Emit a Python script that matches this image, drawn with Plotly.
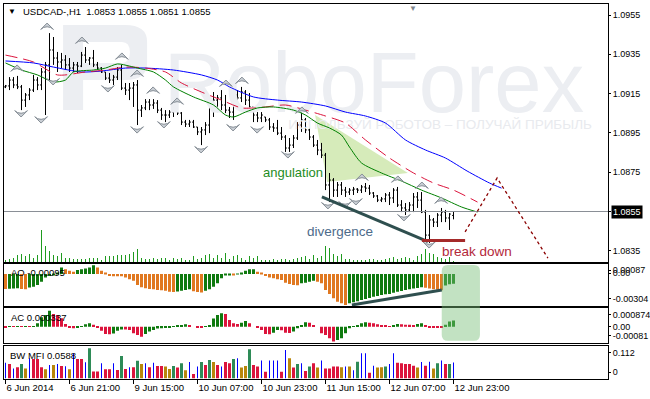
import plotly.graph_objects as go

# ---------------- data (USDCAD H1) ----------------
open_ = [1.09184, 1.09189, 1.09219, 1.09194, 1.09184, 1.09117, 1.09143, 1.09168, 1.09219, 1.09194,
         1.09260, 1.09296, 1.09372, 1.09331, 1.09311, 1.09321, 1.09296, 1.09280, 1.09296, 1.09290,
         1.09346, 1.09321, 1.09331, 1.09296, 1.09280, 1.09260, 1.09229, 1.09219, 1.09234, 1.09270,
         1.09178, 1.09168, 1.09178, 1.09194, 1.09066, 1.09077, 1.09107, 1.09092, 1.09102, 1.09066,
         1.09041, 1.09041, 1.09056, 1.09066, 1.09051, 1.09005, 1.08995, 1.09005, 1.08980, 1.08955,
         1.08965, 1.08990, 1.09092, 1.09117, 1.09128, 1.09092, 1.09066, 1.09056, 1.09143, 1.09128,
         1.09158, 1.09117, 1.09082, 1.09041, 1.09026, 1.09031, 1.09016, 1.08980, 1.08975, 1.08949,
         1.08929, 1.08873, 1.08888, 1.08924, 1.08990, 1.09016, 1.08965, 1.08929, 1.08888, 1.08863,
         1.08837, 1.08685, 1.08710, 1.08659, 1.08685, 1.08659, 1.08649, 1.08659, 1.08664, 1.08659,
         1.08675, 1.08669, 1.08644, 1.08629, 1.08608, 1.08614, 1.08634, 1.08619, 1.08659, 1.08583,
         1.08568, 1.08558, 1.08583, 1.08624, 1.08608, 1.08547, 1.08430, 1.08507, 1.08496, 1.08532,
         1.08547, 1.08517, 1.08530]
high = [1.09194, 1.09234, 1.09234, 1.09240, 1.09194, 1.09153, 1.09178, 1.09245, 1.09234, 1.09280,
        1.09311, 1.09458, 1.09438, 1.09362, 1.09357, 1.09346, 1.09331, 1.09311, 1.09311, 1.09362,
        1.09387, 1.09336, 1.09372, 1.09311, 1.09285, 1.09260, 1.09255, 1.09245, 1.09285, 1.09296,
        1.09204, 1.09204, 1.09209, 1.09219, 1.09092, 1.09122, 1.09122, 1.09122, 1.09117, 1.09077,
        1.09066, 1.09066, 1.09077, 1.09066, 1.09056, 1.09016, 1.09016, 1.09016, 1.08980, 1.08980,
        1.09005, 1.09107, 1.09158, 1.09143, 1.09168, 1.09143, 1.09082, 1.09158, 1.09168, 1.09184,
        1.09168, 1.09153, 1.09082, 1.09056, 1.09056, 1.09031, 1.09026, 1.09000, 1.09016, 1.08980,
        1.08939, 1.08924, 1.08939, 1.09005, 1.09056, 1.09026, 1.08975, 1.08939, 1.08914, 1.08899,
        1.08848, 1.08746, 1.08720, 1.08700, 1.08700, 1.08675, 1.08669, 1.08675, 1.08669, 1.08685,
        1.08695, 1.08685, 1.08649, 1.08634, 1.08624, 1.08644, 1.08649, 1.08669, 1.08675, 1.08608,
        1.08593, 1.08598, 1.08644, 1.08649, 1.08649, 1.08558, 1.08532, 1.08517, 1.08542, 1.08568,
        1.08558, 1.08542, 1.08550]
low = [1.09178, 1.09168, 1.09178, 1.09173, 1.09066, 1.09082, 1.09117, 1.09158, 1.09168, 1.09168,
       1.09041, 1.09219, 1.09296, 1.09260, 1.09280, 1.09270, 1.09260, 1.09260, 1.09255, 1.09285,
       1.09306, 1.09296, 1.09285, 1.09270, 1.09255, 1.09219, 1.09204, 1.09194, 1.09219, 1.09168,
       1.09143, 1.09117, 1.09082, 1.08990, 1.09031, 1.09066, 1.09066, 1.09072, 1.09051, 1.09016,
       1.09005, 1.09026, 1.09031, 1.09041, 1.08990, 1.08980, 1.08980, 1.08975, 1.08939, 1.08888,
       1.08939, 1.08949, 1.09031, 1.09056, 1.09066, 1.09051, 1.09026, 1.09016, 1.09082, 1.09107,
       1.09092, 1.09066, 1.09005, 1.09005, 1.09005, 1.09005, 1.08965, 1.08955, 1.08939, 1.08914,
       1.08853, 1.08853, 1.08873, 1.08914, 1.08955, 1.08949, 1.08914, 1.08878, 1.08837, 1.08822,
       1.08659, 1.08598, 1.08624, 1.08624, 1.08634, 1.08624, 1.08634, 1.08634, 1.08644, 1.08644,
       1.08649, 1.08634, 1.08619, 1.08598, 1.08598, 1.08598, 1.08583, 1.08593, 1.08573, 1.08547,
       1.08532, 1.08547, 1.08547, 1.08568, 1.08542, 1.08395, 1.08390, 1.08471, 1.08471, 1.08496,
       1.08496, 1.08456, 1.08510]
close = [1.09189, 1.09219, 1.09194, 1.09184, 1.09117, 1.09143, 1.09168, 1.09219, 1.09194, 1.09260,
         1.09296, 1.09372, 1.09331, 1.09311, 1.09321, 1.09296, 1.09280, 1.09296, 1.09290, 1.09346,
         1.09321, 1.09331, 1.09296, 1.09280, 1.09260, 1.09229, 1.09219, 1.09234, 1.09270, 1.09178,
         1.09168, 1.09178, 1.09194, 1.09066, 1.09077, 1.09107, 1.09092, 1.09102, 1.09066, 1.09041,
         1.09041, 1.09056, 1.09066, 1.09051, 1.09005, 1.08995, 1.09005, 1.08980, 1.08955, 1.08965,
         1.08990, 1.09092, 1.09117, 1.09128, 1.09092, 1.09066, 1.09056, 1.09143, 1.09128, 1.09158,
         1.09117, 1.09082, 1.09041, 1.09026, 1.09041, 1.09016, 1.08980, 1.08975, 1.08949, 1.08929,
         1.08873, 1.08888, 1.08924, 1.08990, 1.09016, 1.08965, 1.08929, 1.08888, 1.08863, 1.08837,
         1.08685, 1.08710, 1.08659, 1.08685, 1.08659, 1.08649, 1.08659, 1.08664, 1.08659, 1.08675,
         1.08669, 1.08644, 1.08629, 1.08608, 1.08614, 1.08634, 1.08619, 1.08659, 1.08583, 1.08568,
         1.08558, 1.08583, 1.08624, 1.08608, 1.08547, 1.08430, 1.08507, 1.08496, 1.08532, 1.08547,
         1.08517, 1.08537, 1.08550]
volume = [100, 150, 200, 350, 400, 300, 400, 200, 350, 1600,
          800, 550, 350, 300, 450, 200, 200, 150, 150, 150,
          150, 200, 200, 200, 100, 300, 300, 300, 350, 350,
          350, 400, 500, 650, 200, 150, 150, 200, 150, 200,
          200, 100, 200, 150, 200, 100, 100, 300, 150, 200,
          350, 400, 200, 350, 200, 450, 150, 300, 350, 200,
          100, 300, 200, 300, 100, 100, 100, 150, 100, 150,
          150, 100, 150, 200, 250, 300, 150, 350, 200, 300,
          800, 700, 400, 300, 400, 150, 150, 100, 100, 100,
          100, 150, 150, 100, 100, 150, 200, 250, 150, 200,
          250, 200, 100, 300, 400, 650, 450, 400, 250, 200,
          150, 250, 50]
ao = [-0.00147, -0.00145, -0.00143, -0.00140, -0.00146, -0.00150, -0.00132, -0.00124, -0.00108, -0.00075,
      -0.00033, -0.00020, -0.00010, 0.00013, 0.00065, 0.00046, 0.00033, 0.00023, 0.00039, 0.00046,
      0.00055, 0.00065, 0.00087, 0.00065, 0.00033, 0.00007, -0.00020, -0.00021, -0.00022, -0.00023,
      -0.00033, -0.00052, -0.00065, -0.00108, -0.00130, -0.00140, -0.00147, -0.00149, -0.00156, -0.00158,
      -0.00163, -0.00173, -0.00175, -0.00172, -0.00163, -0.00156, -0.00150, -0.00168, -0.00176, -0.00182,
      -0.00165, -0.00150, -0.00124, -0.00091, -0.00042, -0.00010, -0.00007, -0.00013, -0.00003, 0.00007,
      0.00033, 0.00046, 0.00047, 0.00023, 0.00007, -0.00020, -0.00033, -0.00042, -0.00052, -0.00059,
      -0.00085, -0.00098, -0.00108, -0.00110, -0.00091, -0.00085, -0.00075, -0.00065, -0.00075, -0.00091,
      -0.00156, -0.00196, -0.00238, -0.00271, -0.00287, -0.00304, -0.00287, -0.00277, -0.00267, -0.00254,
      -0.00244, -0.00235, -0.00222, -0.00215, -0.00205, -0.00199, -0.00196, -0.00183, -0.00173, -0.00166,
      -0.00156, -0.00150, -0.00143, -0.00137, -0.00130, -0.00135, -0.00142, -0.00150, -0.00155, -0.00158,
      -0.00112, -0.00100, -0.00095]
ac = [-0.00002, 0.00001, -0.00001, 0.00002, 0.00001, 0.00002, 0.00001, 0.00003, 0.00018, 0.00051,
      0.00064, 0.000874, 0.00069, 0.00064, 0.00046, 0.00015, -0.00002, -0.00009, -0.00005, 0.00001,
      0.00013, 0.00018, 0.00010, -0.00004, -0.00022, -0.00040, -0.00041, -0.00037, -0.00022, -0.00015,
      -0.00016, -0.00018, -0.00036, -0.00046, -0.00055, -0.00040, -0.00027, -0.00018, -0.00010, -0.00009,
      -0.00006, -0.00004, 0.00001, 0.00005, 0.00009, 0.00013, 0.00004, 0.00000, -0.00005, -0.00006,
      0.00001, 0.00009, 0.00045, 0.00064, 0.00073, 0.00069, 0.00036, 0.00018, 0.00015, 0.00022,
      0.00031, 0.00018, 0.00000, -0.00004, -0.00018, -0.00040, -0.00042, -0.00033, -0.00018, -0.00019,
      -0.00033, -0.00034, -0.00027, -0.00009, 0.00009, 0.00024, 0.00022, 0.00009, 0.00000, -0.00036,
      -0.00046, -0.00064, -0.00081, -0.00073, -0.00064, -0.00036, -0.00009, 0.00002, 0.00009, 0.00018,
      0.00024, 0.00022, 0.00018, 0.00013, 0.00007, 0.00004, 0.00003, 0.00009, 0.00015, 0.00013,
      0.00011, 0.00010, 0.00009, 0.00015, 0.00018, 0.00004, -0.00004, -0.00005, -0.00006, -0.00007,
      0.00010, 0.00028, 0.000337]
mfi = [0.058, 0.053, 0.037, 0.041, 0.053, 0.037, 0.075, 0.072, 0.072, 0.041,
       0.034, 0.050, 0.050, 0.053, 0.046, 0.045, 0.034, 0.093, 0.072, 0.072,
       0.060, 0.112, 0.025, 0.025, 0.056, 0.034, 0.034, 0.056, 0.031, 0.083,
       0.035, 0.041, 0.041, 0.065, 0.053, 0.056, 0.041, 0.058, 0.046, 0.046,
       0.044, 0.035, 0.046, 0.040, 0.056, 0.030, 0.061, 0.016, 0.044, 0.061,
       0.050, 0.068, 0.061, 0.050, 0.044, 0.061, 0.056, 0.072, 0.075, 0.040,
       0.046, 0.108, 0.050, 0.044, 0.066, 0.024, 0.066, 0.066, 0.066, 0.024,
       0.106, 0.075, 0.040, 0.053, 0.056, 0.027, 0.044, 0.056, 0.040, 0.066,
       0.037, 0.037, 0.044, 0.044, 0.041, 0.044, 0.044, 0.030, 0.062, 0.093,
       0.093, 0.021, 0.047, 0.040, 0.041, 0.044, 0.053, 0.093, 0.058, 0.056,
       0.053, 0.053, 0.047, 0.040, 0.061, 0.047, 0.062, 0.037, 0.056, 0.066,
       0.053, 0.053, 0.0588]
# MFI zone per bar: g=green, o=fade, b=fake, r=squat
mfi_zone = list("brbrgobrrr" "obobrbobrr" "bgrrbrrbrg" "rbrgobrbrr" "oogrgobrbg"
                "rgorbrrgbo" "ogrrbrbbbr" "borgbrgrob" "rrrrobobgb" "brboogbbrr"
                "rrrobrbogb" "rgb")

# Alligator lines, read at sample bars (shifted forward past the last bar)
jaw_x = [0, 7, 12, 19, 24, 30, 35, 42, 49, 53, 56, 62, 68, 74, 80, 85, 90, 95, 100, 105, 110, 115.4, 121, 124]
jaw_y = [1.09316, 1.09306, 1.09285, 1.09260, 1.09265, 1.09280, 1.09280, 1.09270, 1.09245, 1.09219,
         1.09184, 1.09133, 1.09117, 1.09107, 1.09087, 1.09056, 1.09036, 1.09000, 1.08914, 1.08863,
         1.08822, 1.08756, 1.08695, 1.08669]
teeth_x = [0, 7, 13, 20, 25, 30, 35, 40, 44, 49, 54, 59, 62, 65, 70, 75, 80, 85, 90, 96, 102, 107, 112, 118]
teeth_y = [1.09346, 1.09311, 1.09245, 1.09260, 1.09270, 1.09285, 1.09280, 1.09260, 1.09204, 1.09158,
           1.09117, 1.09077, 1.09077, 1.09082, 1.09092, 1.09066, 1.09036, 1.09000, 1.08914, 1.08822,
           1.08746, 1.08695, 1.08659, 1.08598]
lips_x = [0, 4, 8, 12, 15, 17, 22, 25, 28, 31, 33, 37, 40, 42, 47, 52, 55, 57, 60, 63, 67, 72, 75,
          78, 81, 84, 86, 89, 94, 99, 104, 109, 114, 118]
lips_y = [1.09306, 1.09270, 1.09245, 1.09209, 1.09219, 1.09260, 1.09270, 1.09280, 1.09301, 1.09290,
          1.09280, 1.09260, 1.09219, 1.09184, 1.09133, 1.09092, 1.09041, 1.09031, 1.09056, 1.09077,
          1.09082, 1.09066, 1.09041, 1.09000, 1.08975, 1.08939, 1.08878, 1.08797, 1.08746, 1.08705,
          1.08659, 1.08619, 1.08573, 1.08547]

# Fractals
frac_up_x = [2.9, 10.4, 19.1, 29.1, 32.9, 36.9, 42.9, 55.1, 59.1, 74.1, 89.1, 98.1, 104.1, 108.9]
frac_up_y = [1.09296, 1.09509, 1.09438, 1.09357, 1.09270, 1.09184, 1.09128, 1.09219, 1.09234,
             1.09082, 1.08741, 1.08731, 1.08700, 1.08624]
frac_dn_x = [3.9, 8.9, 11.9, 25.6, 32.9, 39.6, 48.9, 56.9, 62.9, 70.6, 80.6, 84.9, 87.6, 99.6, 105.9]
frac_dn_y = [1.09031, 1.09000, 1.09194, 1.09158, 1.08949, 1.08975, 1.08848, 1.08960, 1.08949,
             1.08822, 1.08563, 1.08568, 1.08583, 1.08502, 1.08364]

time_ticks = [0, 16, 32, 48, 64, 80, 96, 112]
time_labels = ["6 Jun 2014", "6 Jun 21:00", "9 Jun 15:00", "10 Jun 07:00", "10 Jun 23:00",
               "11 Jun 15:00", "12 Jun 07:00", "12 Jun 23:00"]
price_ticks = [1.0835, 1.0855, 1.0875, 1.0895, 1.0915, 1.0935, 1.0955]

# ---------------- figure ----------------
idx = list(range(len(close)))
FONT = "Liberation Sans, Arial, sans-serif"
fig = go.Figure()

# watermark (drawn first so it sits under everything)
fig.add_trace(go.Scatter(x=[92.1], y=[1.09165], mode="text", text=["RoboForex"],
                         textposition="middle center",
                         textfont=dict(family=FONT, size=85, color="#eceef2"),
                         hoverinfo="skip", xaxis="x", yaxis="y"))
fig.add_trace(go.Scatter(x=[146.6], y=[1.08985], mode="text",
                         text=["ИСПОЛЬЗУЙ РОБОТОВ – ПОЛУЧАЙ ПРИБЫЛЬ"],
                         textposition="middle left",
                         textfont=dict(family=FONT, size=13.5, color="#e8eaee"),
                         hoverinfo="skip", xaxis="x", yaxis="y"))

# volume
fig.add_trace(go.Bar(x=idx, y=volume, width=0.25, marker=dict(color="#1f9b1f", line=dict(width=0)),
                     xaxis="x", yaxis="y5"))

# alligator
fig.add_trace(go.Scatter(x=jaw_x, y=jaw_y, mode="lines",
                         line=dict(color="#0000ff", width=1, shape="spline", smoothing=0.7), xaxis="x", yaxis="y"))
fig.add_trace(go.Scatter(x=teeth_x, y=teeth_y, mode="lines",
                         line=dict(color="#dc143c", width=1, shape="spline", smoothing=0.7, dash="12px,6px"),
                         xaxis="x", yaxis="y"))
fig.add_trace(go.Scatter(x=lips_x, y=lips_y, mode="lines",
                         line=dict(color="#008000", width=1, shape="spline", smoothing=0.7), xaxis="x", yaxis="y"))

# price bars
fig.add_trace(go.Ohlc(x=idx, open=open_, high=high, low=low, close=close, tickwidth=0.35,
                      increasing=dict(line=dict(color="black", width=1)),
                      decreasing=dict(line=dict(color="black", width=1)),
                      xaxis="x", yaxis="y"))

# fractals
fig.add_trace(go.Scatter(x=frac_up_x, y=frac_up_y, mode="markers",
                         marker=dict(symbol="arrow-wide", size=9, color="#c9ced4", angle=0,
                                     line=dict(color="#868e96", width=1)), xaxis="x", yaxis="y"))
fig.add_trace(go.Scatter(x=frac_dn_x, y=frac_dn_y, mode="markers",
                         marker=dict(symbol="arrow-wide", size=9, color="#c9ced4", angle=180,
                                     line=dict(color="#868e96", width=1)), xaxis="x", yaxis="y"))

# AO
ao_col = ["#e07820" if i == 0 or ao[i] <= ao[i - 1] else "#0f7a0f" for i in range(len(ao))]
fig.add_trace(go.Bar(x=idx, y=ao, width=0.75, marker=dict(color=ao_col, line=dict(width=0)),
                     xaxis="x2", yaxis="y2"))
# AC
ac_col = ["#dc143c" if i == 0 or ac[i] <= ac[i - 1] else "#0f7a0f" for i in range(len(ac))]
fig.add_trace(go.Bar(x=idx, y=ac, width=0.75, marker=dict(color=ac_col, line=dict(width=0)),
                     xaxis="x3", yaxis="y3"))
# BW MFI
zone_col = {"g": "#2e8b57", "o": "#b8860b", "b": "#0000ff", "r": "#dc143c"}
fig.add_trace(go.Bar(x=idx, y=mfi, width=[0.25 if z == "b" else 0.75 for z in mfi_zone],
                     marker=dict(color=[zone_col[z] for z in mfi_zone], line=dict(width=0)),
                     xaxis="x4", yaxis="y4"))

XR = [-0.375, 150.625]
frame = dict(showline=True, mirror=True, linecolor="black", linewidth=1, showgrid=False,
             zeroline=False, automargin=False)
xbase = dict(range=XR, domain=[0, 1], showticklabels=False, ticks="", rangeslider=dict(visible=False), **frame)
ytick = dict(ticks="outside", ticklen=2, tickcolor="black", tickfont=dict(size=9), side="right")

fig.update_layout(
    width=650, height=399, margin=dict(l=4, r=42, t=4, b=20, autoexpand=False),
    paper_bgcolor="white", plot_bgcolor="white", showlegend=False,
    font=dict(family=FONT, size=9.5, color="black"),
    xaxis=dict(anchor="y", **xbase),
    xaxis2=dict(anchor="y2", matches="x", **xbase),
    xaxis3=dict(anchor="y3", matches="x", **xbase),
    xaxis4=dict(anchor="y4", matches="x", **{**xbase, "showticklabels": True, "ticks": "outside"},
                tickvals=time_ticks, ticktext=time_labels, ticklen=4, tickcolor="black",
                tickangle=0, tickfont=dict(size=9.5), ticklabelposition="outside right"),
    yaxis=dict(domain=[0.312, 1], range=[1.08293, 1.09606], anchor="x",
               tickvals=price_ticks, ticktext=[f"{v:.4f}" for v in price_ticks], **ytick, **frame),
    yaxis2=dict(domain=[0.1947, 0.308], range=[-0.00313, 0.00103], anchor="x2",
                tickvals=[0.00039, 0.0001, -0.00244], ticktext=["0.00087", "0.00", "-0.00304"],
                **ytick, **frame),
    yaxis3=dict(domain=[0.0947, 0.1893], range=[-0.00092, 0.00102], anchor="x3",
                tickvals=[0.00064, 0.00001, -0.00048], ticktext=["0.000874", "0.00", "-0.00081"],
                **ytick, **frame),
    yaxis4=dict(domain=[0, 0.0893], range=[-0.0026, 0.1223], anchor="x4",
                tickvals=[0.0962, 0.0235], ticktext=["0.112", "0"], **ytick, **frame),
    yaxis5=dict(overlaying="y", anchor="x", range=[0, 12900], visible=False),
)

# ------------- drawn objects -------------
rx, ry = 0.0099, 0.016
bx0, bx1, by0, by1 = 0.7247, 0.788, 0.1021, 0.304
box_path = (f"M{bx0+rx},{by1} L{bx1-rx},{by1} Q{bx1},{by1} {bx1},{by1-ry} L{bx1},{by0+ry} "
            f"Q{bx1},{by0} {bx1-rx},{by0} L{bx0+rx},{by0} Q{bx0},{by0} {bx0},{by0+ry} "
            f"L{bx0},{by1-ry} Q{bx0},{by1} {bx0+rx},{by1} Z")
logo_path = ("M14.4,1.09499 L29.9,1.09499 Q35.4,1.09499 35.4,1.09413 L35.4,1.09306 Q35.4,1.09219 29.9,1.09219 "
             "L19.4,1.09219 L19.4,1.09067 L14.4,1.09067 Z "
             "M19.4,1.09413 L19.4,1.09306 L29.1,1.09306 Q31.1,1.09306 31.1,1.0936 Q31.1,1.09413 29.1,1.09413 Z")
fig.update_layout(shapes=[
    dict(type="path", path=logo_path, xref="x", yref="y", fillcolor="#eceef2", line=dict(width=0), layer="below"),
    dict(type="path", path="M77.4,1.09041 L80.4,1.08700 L100.6,1.08746 Z", xref="x", yref="y",
         fillcolor="#d6ebba", line=dict(width=0), layer="below"),
    dict(type="line", xref="paper", yref="y", x0=0, x1=1, y0=1.0855, y1=1.0855,
         line=dict(color="#8a8f96", width=1)),
    dict(type="line", xref="x", yref="y", x0=79.1, y0=1.08624, x1=105.6, y1=1.08397,
         line=dict(color="#2f4f4f", width=3)),
    dict(type="line", xref="x", yref="y", x0=104.1, y0=1.08402, x1=114.9, y1=1.08402,
         line=dict(color="#a52a2a", width=3)),
    dict(type="path", path="M114.9,1.08446 L122.9,1.08720 L135.6,1.08313", xref="x", yref="y",
         line=dict(color="#8b0000", width=1.3, dash="3px,3px")),
    dict(type="line", xref="x2", yref="y2", x0=86.6, y0=-0.00303, x1=109.1, y1=-0.00156,
         line=dict(color="#2f4f4f", width=3)),
    dict(type="path", path=box_path, xref="paper", yref="paper",
         fillcolor="rgba(120,190,120,0.45)", line=dict(width=0), layer="above"),
])

ann = [
    dict(x=0.0132, y=0.9787, xref="paper", yref="paper", text="▼", showarrow=False,
         font=dict(size=8, color="black"), xanchor="center", yanchor="middle"),
    dict(x=0.0281, y=0.9787, xref="paper", yref="paper",
         text="USDCAD-,H1\u00a0\u00a01.0853 1.0855 1.0851 1.0855", showarrow=False,
         xanchor="left", yanchor="middle", font=dict(size=9.5)),
    dict(x=101.9, y=1.0, xref="x", yref="paper", text="▼", showarrow=False,
         font=dict(size=8, color="#7f868e"), xanchor="center", yanchor="top", yshift=2),
    dict(x=0.0083, y=0.2853, xref="paper", yref="paper", text="AO -0.00095", showarrow=False,
         xanchor="left", yanchor="middle", font=dict(size=9.5)),
    dict(x=0.0083, y=0.1627, xref="paper", yref="paper", text="AC 0.000337", showarrow=False,
         xanchor="left", yanchor="middle", font=dict(size=9.5)),
    dict(x=0.0066, y=0.064, xref="paper", yref="paper", text="BW MFI 0.0588", showarrow=False,
         xanchor="left", yanchor="middle", font=dict(size=9.5)),
    dict(x=1, y=1.0855, xref="paper", yref="y", text="1.0855", showarrow=False, xanchor="left",
         yanchor="middle", xshift=3, bgcolor="black", borderpad=1, font=dict(size=9, color="white")),
    dict(x=71.9, y=1.08751, xref="x", yref="y", text="angulation", showarrow=False,
         font=dict(size=13, color="#1e8c1e"), xanchor="center", yanchor="middle"),
    dict(x=83.6, y=1.08446, xref="x", yref="y", text="divergence", showarrow=False,
         font=dict(size=13.5, color="#4d6b8a"), xanchor="center", yanchor="middle"),
    dict(x=117.9, y=1.08349, xref="x", yref="y", text="break down", showarrow=False,
         font=dict(size=13.5, color="#b3283a"), xanchor="center", yanchor="middle"),
]
fig.update_layout(annotations=ann)

fig.write_html("out.html", config={"displayModeBar": False},
               post_script="document.body.style.margin='0px';")
